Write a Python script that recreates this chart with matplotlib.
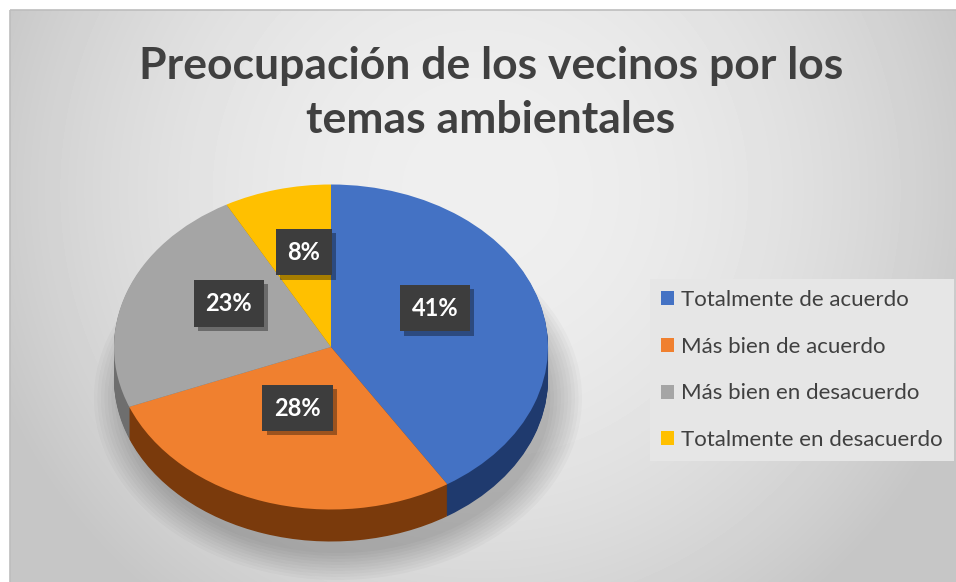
import numpy as np
import matplotlib
matplotlib.use("Agg")
import matplotlib.pyplot as plt
import matplotlib.patheffects as pe
from matplotlib.patches import Ellipse, Rectangle

plt.rcParams['font.family'] = ['Lato', 'DejaVu Sans']

title = "Preocupación de los vecinos por los\ntemas ambientales"
categories = ["Totalmente de acuerdo", "Más bien de acuerdo",
              "Más bien en desacuerdo", "Totalmente en desacuerdo"]
values = [41, 28, 23, 8]
top_colors = ["#4472C4", "#F0802F", "#A5A5A5", "#FFC000"]
side_colors = ["#1F3A6E", "#7A3A0C", "#6E6E6E", "#9C7500"]

W, H = 956, 582
fig = plt.figure(figsize=(W / 100, H / 100), dpi=100)

# background: radial grey gradient inside a thin frame
bg = fig.add_axes([0, 0, 1, 1])
bg.set_xlim(0, W)
bg.set_ylim(H, 0)
bg.axis('off')
yy, xx = np.mgrid[10:H, 10:W]
d = np.hypot(xx - 480, yy - 190) / 500.0
grad = np.clip(239 - 38 * d ** 2, 198, 255) / 255.0
bg.imshow(grad, cmap='gray', vmin=0, vmax=1, extent=(10, W, H, 10), zorder=0)
bg.add_patch(Rectangle((10, 10), W, H, fill=False, edgecolor='#bdbdbd', lw=1.2, zorder=1))

# soft shadow under the pie
for k in range(10):
    bg.add_patch(Ellipse((338, 398), 425 + 7 * k, 310 + 6 * k,
                         facecolor='black', alpha=0.022, edgecolor='none', zorder=2))

# pie geometry in pixels
cx, cy, rx, ry, depth = 331, 347, 217, 162.5, 32
dd = depth / ry
pax = fig.add_axes([(cx - rx) / W, 1 - (cy + ry + depth) / H, 2 * rx / W, (2 * ry + depth) / H])
pax.axis('off')
pax.patch.set_alpha(0)

n = 32
for k in range(n, 0, -1):
    pax.pie(values, colors=side_colors, startangle=90, counterclock=False,
            center=(0, -dd * k / n), radius=1, wedgeprops=dict(linewidth=0))
wedges, _ = pax.pie(values, colors=top_colors, startangle=90, counterclock=False,
                    center=(0, 0), radius=1, wedgeprops=dict(linewidth=0))
pax.set_aspect('auto')
pax.set_xlim(-1, 1)
pax.set_ylim(-1 - dd, 1)

# data labels
shadow = [pe.SimplePatchShadow(offset=(3, -3), shadow_rgbFace='black', alpha=0.35), pe.Normal()]
ang = 90.0
for v in values:
    mid = np.deg2rad(ang - 360.0 * v / sum(values) / 2)
    ang -= 360.0 * v / sum(values)
    lx, ly = 0.5 * np.cos(mid), 0.5 * np.sin(mid) + 0.1
    t = pax.text(lx, ly, f"{v}%", ha='center', va='center', fontsize=17, fontweight='bold',
                 color='white',
                 bbox=dict(boxstyle='square,pad=0.5', facecolor='#3d3d3d', edgecolor='none'))
    t.get_bbox_patch().set_path_effects(shadow)

# title
fig.text(491 / W, 1 - 93 / H, title, ha='center', va='center', fontsize=32,
         fontweight='bold', color='#404040', linespacing=1.42)

leg = fig.legend(wedges, categories, loc='upper left',
                 bbox_to_anchor=(650 / W, 1 - 279 / H), frameon=True, fancybox=False,
                 facecolor='#e6e6e6', edgecolor='none', framealpha=1,
                 fontsize=16, labelcolor='#404040', handlelength=0.6, handleheight=0.6,
                 handletextpad=0.3, labelspacing=1.2, borderpad=0.5, borderaxespad=0)

fig.savefig("out.png", dpi=100)
